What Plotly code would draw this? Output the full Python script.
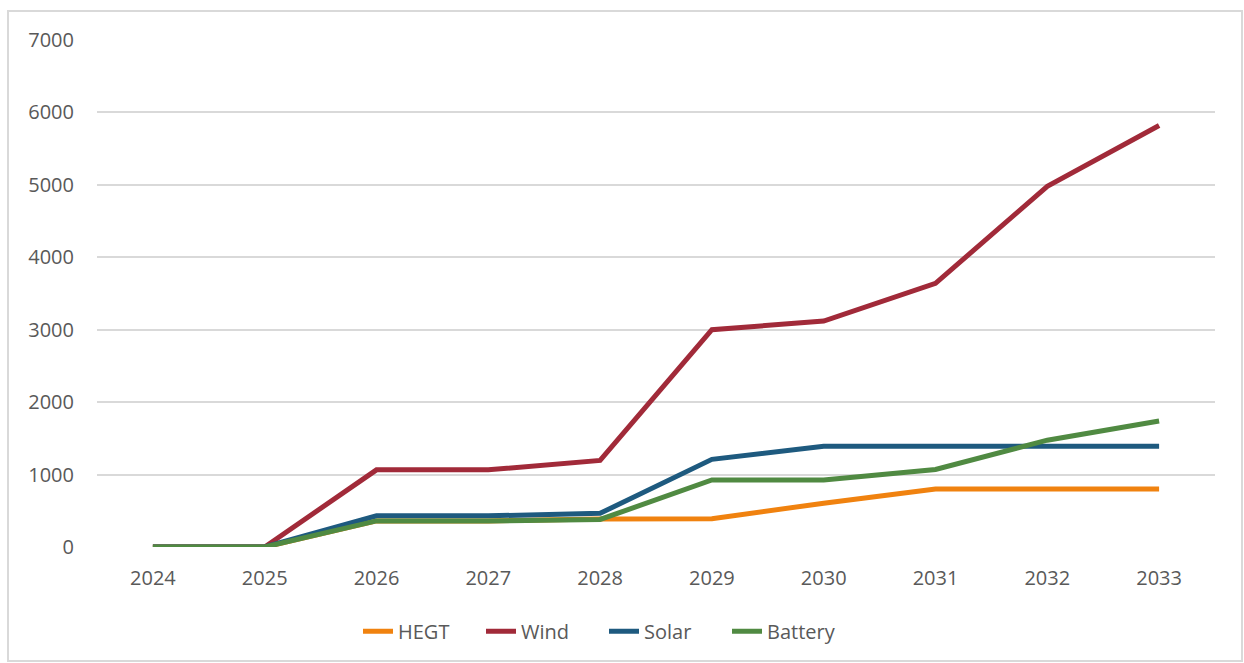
import plotly.graph_objects as go

years = ["2024", "2025", "2026", "2027", "2028", "2029", "2030", "2031", "2032", "2033"]

hegt = [0, 0, 360, 360, 385, 390, 605, 800, 800, 800]
wind = [0, 0, 1065, 1065, 1195, 3000, 3120, 3640, 4980, 5820]
solar = [0, 0, 430, 430, 465, 1210, 1390, 1390, 1390, 1390]
battery = [0, 0, 360, 360, 380, 925, 925, 1070, 1475, 1740]

series = [
    ("HEGT", hegt, "#F0820F"),
    ("Wind", wind, "#A12A39"),
    ("Solar", solar, "#1E5A7F"),
    ("Battery", battery, "#508A42"),
]

text_color = "#595959"
grid_color = "#D9D9D9"
font_family = "Open Sans, Noto Sans, Liberation Sans, sans-serif"

fig = go.Figure()
for name, values, color in series:
    fig.add_trace(go.Scatter(
        x=years, y=values, name=name, mode="lines",
        line=dict(color=color, width=5),
    ))

fig.update_layout(
    width=1244, height=663,
    margin=dict(l=97, r=29, t=40, b=116),
    paper_bgcolor="white", plot_bgcolor="white",
    font=dict(family=font_family, size=20, color=text_color),
    showlegend=True,
    legend=dict(
        orientation="h", x=(358 - 97) / 1118, xanchor="left",
        y=-0.166, yanchor="middle",
        font=dict(size=20, color=text_color),
        entrywidth=78, entrywidthmode="pixels",
        traceorder="normal", bgcolor="rgba(0,0,0,0)",
    ),
    xaxis=dict(
        type="category", range=[-0.5, 9.5],
        showgrid=False, zeroline=False, showline=False,
        ticks="", tickfont=dict(size=20, color=text_color),
        ticklabelstandoff=17,
    ),
    yaxis=dict(
        range=[0, 7000], tickvals=[0, 1000, 2000, 3000, 4000, 5000, 6000, 7000],
        showgrid=True, gridcolor=grid_color, gridwidth=1.5,
        zeroline=False, showline=False, ticks="",
        tickfont=dict(size=20, color=text_color),
        ticklabelstandoff=22,
    ),
    shapes=[
        # light frame around the whole chart area
        dict(type="rect", xref="paper", yref="paper",
             x0=(8 - 97) / 1118, x1=(1242 - 97) / 1118,
             y0=(547 - 661) / 507, y1=(547 - 11) / 507,
             line=dict(color=grid_color, width=2), fillcolor="rgba(0,0,0,0)",
             layer="below"),
    ],
)

fig.write_html("out.html")
